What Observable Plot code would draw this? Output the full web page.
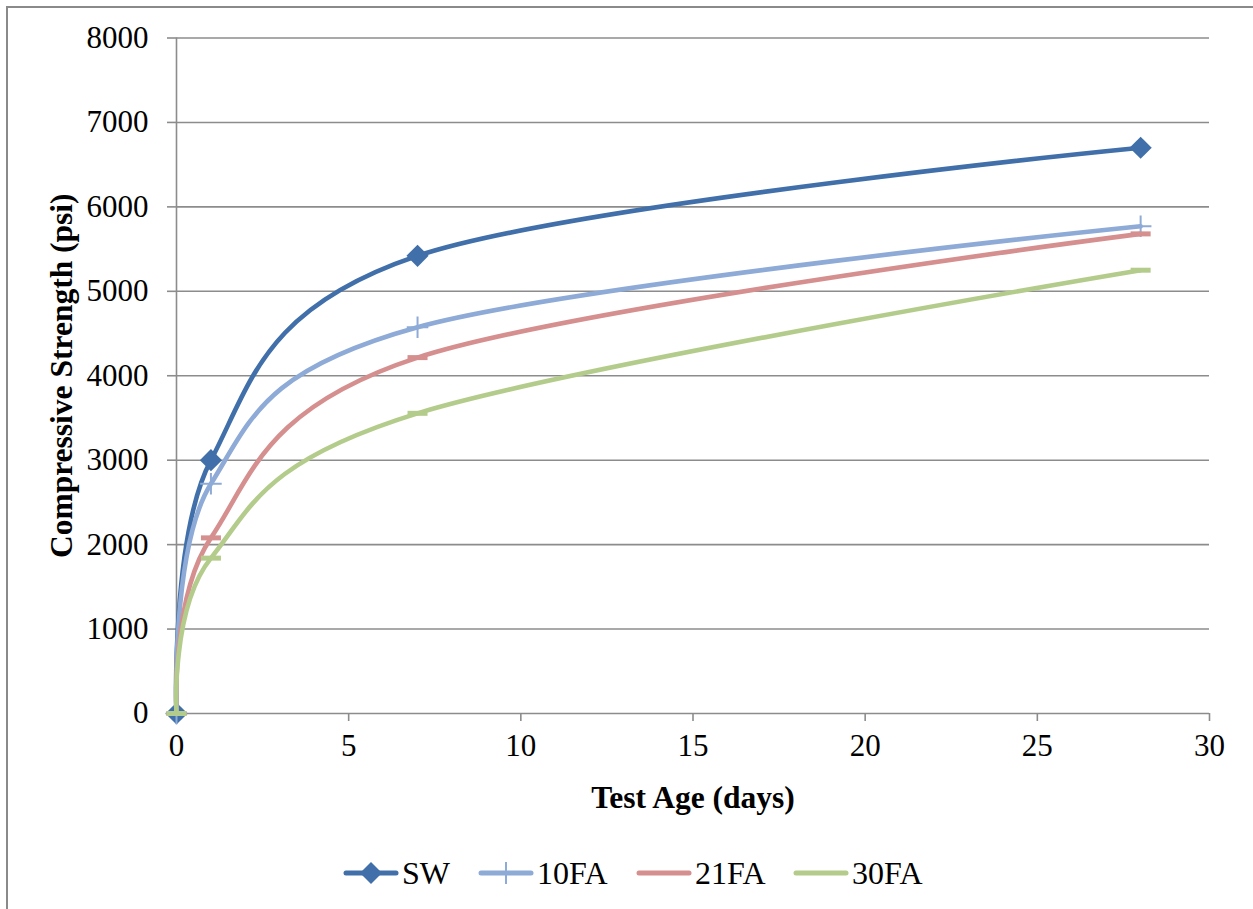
<!DOCTYPE html>
<html><head><meta charset="utf-8">
<script src="https://cdn.jsdelivr.net/npm/d3@7"></script>
<script src="https://cdn.jsdelivr.net/npm/@observablehq/plot@0.6"></script>
<style>
html,body{margin:0;padding:0;background:#fff;}
body{overflow:hidden;width:1253px;height:909px;position:relative;font-family:"Liberation Serif","Times New Roman",serif;}
#frame{position:absolute;left:6px;top:6px;width:1320px;height:1000px;border:2px solid #8a8a8a;box-sizing:border-box;}
#chart{position:absolute;left:0;top:0;}
#chart svg, #chart svg text{font-family:"Liberation Serif","Times New Roman",serif !important;}
#legend{position:absolute;left:0;top:0;width:1253px;height:909px;pointer-events:none;}
.item{position:absolute;display:flex;align-items:center;font-size:32px;color:#000;line-height:1;font-family:"Liberation Serif","Times New Roman",serif;}
.item svg{display:block;}
</style></head><body>
<div id="frame"></div><div id="chart"></div><div id="legend"></div>
<script>
// ---- data ----
const days = [0, 1, 7, 28];
const seriesNames = ["SW", "10FA", "21FA", "30FA"];
const swValues = [0, 3000, 5420, 6700];
const fa10Values = [0, 2720, 4575, 5770];
const fa21Values = [0, 2080, 4215, 5680];
const fa30Values = [0, 1840, 3555, 5250];
const xTicks = [0, 5, 10, 15, 20, 25, 30];
const yTicks = [0, 1000, 2000, 3000, 4000, 5000, 6000, 7000, 8000];
const xLabel = "Test Age (days)";
const yLabel = "Compressive Strength (psi)";

const colors = ["#416fa9", "#8eaad6", "#d58f8e", "#b4cc8b"];
const gridColor = "#8c8c8c";
const serif = "'Liberation Serif','Times New Roman',serif";

const allValues = [swValues, fa10Values, fa21Values, fa30Values];
const rows = [];
seriesNames.forEach((s, i) => days.forEach((d, j) => rows.push({series: s, day: d, value: allValues[i][j]})));

const dash = {draw(ctx, size) { const r = Math.sqrt(size / Math.PI); ctx.moveTo(-r, 0); ctx.lineTo(r, 0); }};

const seriesMarks = [];
seriesNames.forEach((s, i) => {
  const d = rows.filter(r => r.series === s);
  seriesMarks.push(Plot.line(d, {x: "day", y: "value", stroke: colors[i], strokeWidth: 4.6, curve: "cardinal", strokeLinejoin: "round"}));
  if (i === 0) seriesMarks.push(Plot.dot(d, {x: "day", y: "value", symbol: "diamond2", r: 10, fill: colors[i], stroke: "none"}));
  else if (i === 1) seriesMarks.push(Plot.dot(d, {x: "day", y: "value", symbol: "plus", r: 7, fill: "none", stroke: colors[i], strokeWidth: 2}));
  else seriesMarks.push(Plot.dot(d, {x: "day", y: "value", symbol: dash, r: 10, fill: "none", stroke: colors[i], strokeWidth: 5}));
});

const chart = Plot.plot({
  width: 1253,
  height: 830,
  marginLeft: 176,
  marginRight: 44,
  marginTop: 37.5,
  marginBottom: 117,
  style: {fontFamily: serif, color: "#000", background: "transparent"},
  x: {domain: [0, 30]},
  y: {domain: [0, 8000]},
  marks: [
    Plot.ruleY(yTicks, {stroke: gridColor, strokeWidth: 1.6}),
    Plot.ruleX([0], {stroke: gridColor, strokeWidth: 1.6}),
    Plot.axisY({ticks: yTicks, tickSize: 9, tickPadding: 19, fontSize: 31, fontFamily: serif, label: null, stroke: gridColor, strokeWidth: 1.6, tickFormat: d => String(d)}),
    Plot.axisX({ticks: xTicks, tickSize: 8, tickPadding: 12, fontSize: 31, fontFamily: serif, label: null, stroke: gridColor, strokeWidth: 1.6, tickFormat: d => String(d)}),
    Plot.text([xLabel], {frameAnchor: "bottom", dy: 84, fontSize: 31.5, fontFamily: serif, fontWeight: "bold", lineAnchor: "middle", fill: "#000"}),
    Plot.text([yLabel], {frameAnchor: "left", textAnchor: "middle", dx: -115, rotate: -90, fontSize: 31.5, fontFamily: serif, fontWeight: "bold", lineAnchor: "middle", fill: "#000"}),
    ...seriesMarks
  ]
});
document.getElementById("chart").appendChild(chart);

// ---- legend ----
const legendPos = [344, 479, 637, 794];
const legend = document.getElementById("legend");
seriesNames.forEach((s, i) => {
  const item = document.createElement("div");
  item.className = "item";
  item.style.left = (legendPos[i] - 4) + "px";
  item.style.top = "855px";
  const w = 62, h = 36, cy = h / 2;
  let marker = "";
  if (i === 0) marker = `<path d="M${w/2} ${cy-11} L${w/2+11} ${cy} L${w/2} ${cy+11} L${w/2-11} ${cy} Z" fill="${colors[i]}"/>`;
  else if (i === 1) marker = `<path d="M${w/2} ${cy-11} V${cy+11}" stroke="${colors[i]}" stroke-width="2"/>`;
  item.innerHTML = `<svg width="${w}" height="${h}"><line x1="6" x2="${w-6}" y1="${cy}" y2="${cy}" stroke="${colors[i]}" stroke-width="5" stroke-linecap="round"/>${marker}</svg><span>${s}</span>`;
  legend.appendChild(item);
});
</script>
</body></html>
